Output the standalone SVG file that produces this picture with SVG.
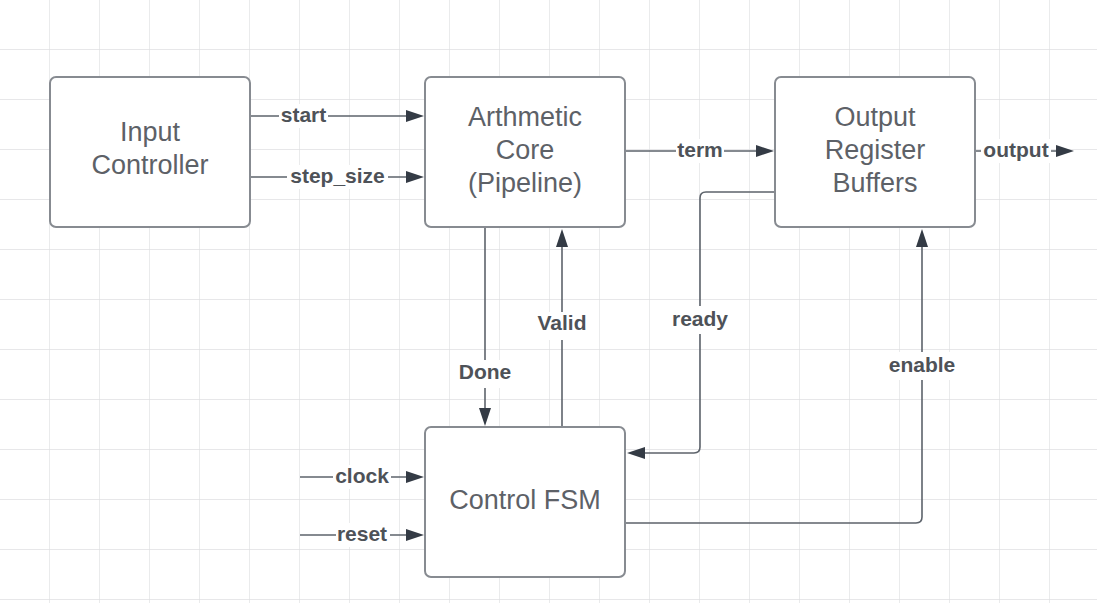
<svg xmlns="http://www.w3.org/2000/svg" width="1097" height="603" viewBox="0 0 1097 603">
<defs>
<pattern id="grid" width="50" height="50" patternUnits="userSpaceOnUse">
<path d="M50,0 V50 M0,50 H50" fill="none" stroke="#dfe0e2" stroke-width="1.3"/>
</pattern>
<marker id="arr" viewBox="0 0 18 12" refX="8" refY="6" markerWidth="18" markerHeight="12" markerUnits="userSpaceOnUse" orient="auto">
<path d="M0,0 L18,6 L0,12 z" fill="#343b45"/>
</marker>
<style>
.box{fill:#ffffff;stroke:#878b91;stroke-width:2}
.nt{font-family:"Liberation Sans",Arial,sans-serif;font-size:27px;fill:#5d6167;text-anchor:middle}
.ln{fill:none;stroke:#5d636b;stroke-width:1.6}
.lb{font-family:"Liberation Sans",Arial,sans-serif;font-size:21px;font-weight:bold;fill:#4e5258;text-anchor:middle}
.bg{fill:#ffffff}
</style>
</defs>
<rect width="1097" height="603" fill="#ffffff"/>
<rect width="1097" height="603" fill="url(#grid)"/>

<g id="connectors">
<path class="ln" d="M250,116 H414" marker-end="url(#arr)"/>
<path class="ln" d="M250,177 H414" marker-end="url(#arr)"/>
<path class="ln" d="M625,151 H764" marker-end="url(#arr)"/>
<path class="ln" d="M975,151 H1064" marker-end="url(#arr)"/>
<path class="ln" d="M775,192 H706 Q700,192 700,198 V447 Q700,453 694,453 H637" marker-end="url(#arr)"/>
<path class="ln" d="M625,523 H916 Q922,523 922,517 V239" marker-end="url(#arr)"/>
<path class="ln" d="M485,227 V416" marker-end="url(#arr)"/>
<path class="ln" d="M562,427 V239" marker-end="url(#arr)"/>
<path class="ln" d="M300,477 H414" marker-end="url(#arr)"/>
<path class="ln" d="M300,535 H414" marker-end="url(#arr)"/>

<rect class="bg" x="279" y="104" width="49" height="24"/>
<text class="lb" x="303.5" y="121.5">start</text>
<rect class="bg" x="287" y="165" width="101" height="24"/>
<text class="lb" x="337.5" y="182.5">step_size</text>
<rect class="bg" x="676" y="139" width="48" height="24"/>
<text class="lb" x="700" y="156.5">term</text>
<rect class="bg" x="981" y="139" width="70" height="24"/>
<text class="lb" x="1016" y="156.5">output</text>
<rect class="bg" x="670" y="306" width="60" height="28"/>
<text class="lb" x="700" y="325.5">ready</text>
<rect class="bg" x="886" y="352" width="72" height="28"/>
<text class="lb" x="922" y="371.5">enable</text>
<rect class="bg" x="457" y="360" width="56" height="28"/>
<text class="lb" x="485" y="378.5">Done</text>
<rect class="bg" x="536" y="312" width="52" height="28"/>
<text class="lb" x="562" y="329.5">Valid</text>
<rect class="bg" x="333" y="465" width="58" height="24"/>
<text class="lb" x="362" y="482.5">clock</text>
<rect class="bg" x="336" y="523" width="54" height="24"/>
<text class="lb" x="362" y="540.5">reset</text>
</g>

<g id="input-controller">
<rect class="box" x="50" y="77" width="200" height="150" rx="6"/>
<text class="nt" x="150" y="141">Input</text>
<text class="nt" x="150" y="174">Controller</text>
</g>
<g id="arithmetic-core">
<rect class="box" x="425" y="77" width="200" height="150" rx="6"/>
<text class="nt" x="525" y="126">Arthmetic</text>
<text class="nt" x="525" y="159">Core</text>
<text class="nt" x="525" y="192">(Pipeline)</text>
</g>
<g id="output-register">
<rect class="box" x="775" y="77" width="200" height="150" rx="6"/>
<text class="nt" x="875" y="126">Output</text>
<text class="nt" x="875" y="159">Register</text>
<text class="nt" x="875" y="192">Buffers</text>
</g>
<g id="control-fsm">
<rect class="box" x="425" y="427" width="200" height="150" rx="6"/>
<text class="nt" x="525" y="509">Control FSM</text>
</g>
</svg>
